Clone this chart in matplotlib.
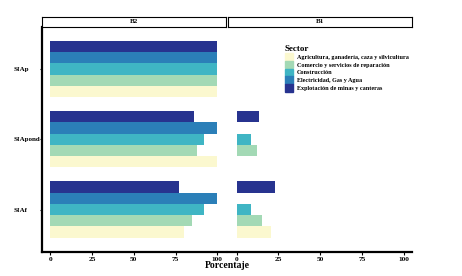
import matplotlib.pyplot as plt
from matplotlib.patches import Patch

plt.rcParams['font.family'] = ['Liberation Serif', 'DejaVu Serif']
plt.rcParams['font.weight'] = 'bold'

# datos
grupos = ["SIAf", "SIApond", "SIAp"]
sectores = ["Agricultura, ganadería, caza y silvicultura",
            "Comercio y servicios de reparación",
            "Construcción",
            "Electricidad, Gas y Agua",
            "Explotación de minas y canteras"]
colores = ["#fbf8cf", "#a3d9b5", "#3fb5c4", "#2b7fb8", "#27338f"]
paneles = ["B2", "B1"]
# valores por sector, en el orden de grupos
b2 = [[80, 100, 100],
      [85, 88, 100],
      [92, 92, 100],
      [100, 100, 100],
      [77, 86, 100]]
b1 = [[20.5, 0, 0],
      [15, 12, 0],
      [8.5, 8.5, 0],
      [0, 0, 0],
      [23, 13.5, 0]]
xticks = [0, 25, 50, 75, 100]

W, H = 462, 276
fig = plt.figure(figsize=(W / 100, H / 100), dpi=100)

def px(x0, y0, x1, y1):
    return [x0 / W, 1 - y1 / H, (x1 - x0) / W, (y1 - y0) / H]

ancho = 0.16
lims = [(41.7, 225.7), (228.3, 412.3)]
for k, (nombre, datos) in enumerate(zip(paneles, [b2, b1])):
    x0, x1 = lims[k]
    ax = fig.add_axes(px(x0, 26.7, x1, 251.7))
    for i, vals in enumerate(datos):
        pos = [g + 1 - 0.4 + ancho * (i + 0.5) for g in range(len(grupos))]
        ax.barh(pos, vals, height=ancho, color=colores[i], linewidth=0)
    ax.set_xlim(-5, 105)
    ax.set_ylim(0.4, 3.6)
    ax.set_xticks(xticks)
    ax.set_xticklabels([str(t) for t in xticks], fontsize=5.3)
    for s in ["top", "right"]:
        ax.spines[s].set_visible(False)
    ax.spines["bottom"].set_linewidth(1.6)
    ax.tick_params(axis="x", length=2, width=0.8, pad=1.5)
    if k == 0:
        ax.set_yticks([1, 2, 3])
        ax.set_yticklabels(grupos, fontsize=5.0, ha="left")
        ax.spines["left"].set_linewidth(1.6)
        ax.tick_params(axis="y", length=1.5, width=0.8, pad=18.5)
    else:
        ax.spines["left"].set_visible(False)
        ax.set_yticks([])
    # strip
    st = fig.add_axes(px(x0, 16.7, x1, 26.7))
    st.set_xticks([])
    st.set_yticks([])
    for s in st.spines.values():
        s.set_linewidth(0.8)
    st.text(0.5, 0.5, nombre, ha="center", va="center", fontsize=5, transform=st.transAxes)

fig.text(227 / W, 1 - 265 / H, "Porcentaje", ha="center", va="center", fontsize=7)

handles = [Patch(color=c, label=s) for c, s in zip(colores, sectores)]
fig.legend(handles=handles, title="Sector", loc="upper left",
           bbox_to_anchor=(280 / W, 1 - 40 / H), frameon=False,
           fontsize=4.4, title_fontsize=6.5, handlelength=1.35, handleheight=1.5,
           handletextpad=0.65, labelspacing=0.05, alignment="left",
           borderpad=0.3)

fig.savefig("out.png", dpi=100)
